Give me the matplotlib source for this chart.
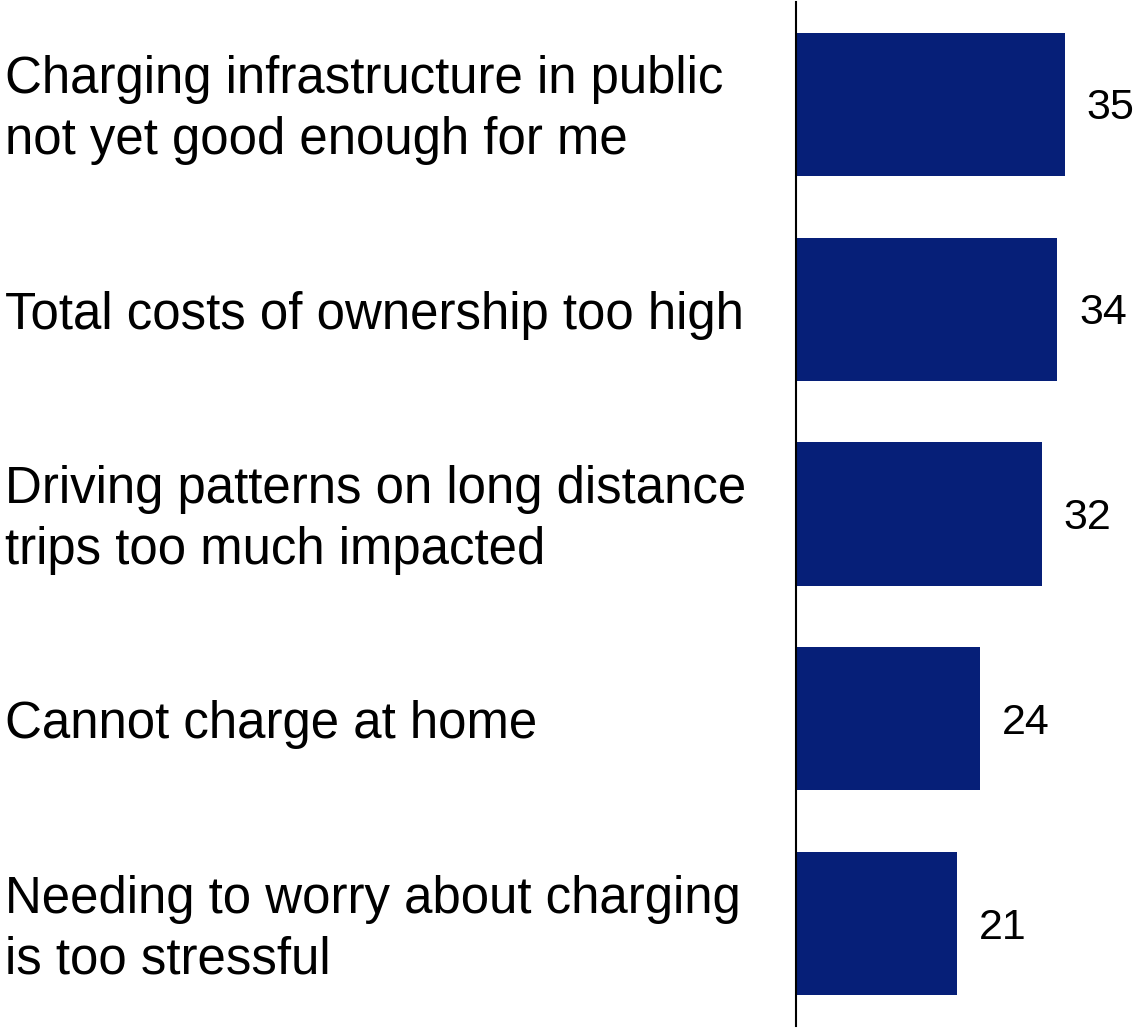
import matplotlib
matplotlib.use("Agg")
import matplotlib.pyplot as plt
import matplotlib.transforms as mtransforms

plt.rcParams['font.family'] = ['Liberation Sans', 'DejaVu Sans']

# reasons given for not buying an EV, share of respondents
reasons = [
    "Charging infrastructure in public\nnot yet good enough for me",
    "Total costs of ownership too high",
    "Driving patterns on long distance\ntrips too much impacted",
    "Cannot charge at home",
    "Needing to worry about charging\nis too stressful",
]
shares = [35, 34, 32, 24, 21]

bar_color = "#061f78"

fig = plt.figure(figsize=(11.38, 10.29), dpi=100)
ax = fig.add_axes([796 / 1138, 3 / 1029, 342 / 1138, 1024 / 1029])

pos = list(range(len(reasons)))
bars = ax.barh(pos, shares, height=0.70, color=bar_color)
ax.set_ylim(len(reasons) - 0.5, -0.5)
ax.set_xlim(0, 342 / 7.68)

# value labels to the right of each bar, a touch below centre
shift = mtransforms.ScaledTranslation(22 / 100, -4 / 100, fig.dpi_scale_trans)
for p, v in zip(pos, shares):
    ax.text(v, p, str(v), transform=ax.transData + shift,
            ha="left", va="center", fontsize=31)

# category labels sit at the left edge of the figure
down6 = mtransforms.ScaledTranslation(0, -6 / 100, fig.dpi_scale_trans)
trans = mtransforms.blended_transform_factory(fig.transFigure, ax.transData) + down6
for p, r in zip(pos, reasons):
    ax.text(5 / 1138, p, r, transform=trans, ha="left", va="center",
            fontsize=36.7, linespacing=1.32)

for side in ["top", "right", "bottom"]:
    ax.spines[side].set_visible(False)
ax.spines["left"].set_linewidth(1.5)
ax.set_xticks([])
ax.set_yticks([])

fig.savefig("out.png", dpi=100)
